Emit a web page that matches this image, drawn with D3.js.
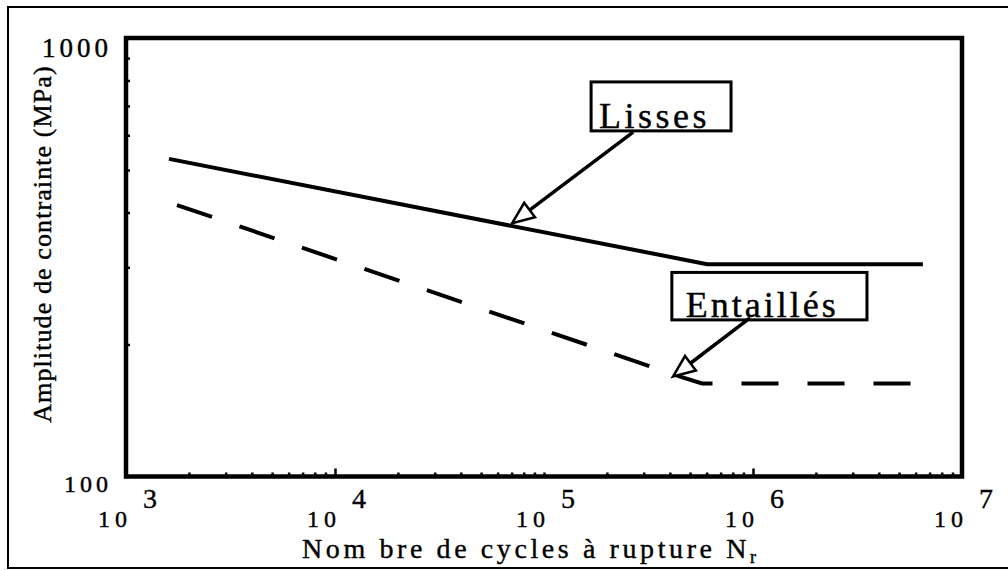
<!DOCTYPE html>
<html>
<head>
<meta charset="utf-8">
<script src="https://cdn.jsdelivr.net/npm/d3@7"></script>
<style>
  body { margin: 0; background: #fff; }
  svg text { font-family: "Liberation Serif", "Times New Roman", serif; fill: #000; stroke: #000; stroke-width: 0.4px; }
</style>
</head>
<body>
<svg id="chart" width="1008" height="570"></svg>
<script>
// axes
const xDomain = [1e3, 1e7];
const yDomain = [100, 1000];
const xMajor = [1e3, 1e4, 1e5, 1e6, 1e7];
const xExponents = ["3", "4", "5", "6", "7"];
const yMajor = [100, 1000];
const yLabels = ["100", "1000"];

// courbes de Wöhler (N, amplitude MPa)
const lissesN = [1606, 603000, 6.5e6];
const lissesS = [530, 305, 305];
const entaillesN = [1754, 448000, 570000, 6.5e6];
const entaillesS = [416, 169, 163, 163];

// annotations : boîte (coin haut-gauche / bas-droit) et flèche (queue -> pointe)
const annoText = ["Lisses", "Entaillés"];
const annoBoxN = [[168000, 785000], [409000, 3.51e6]];
const annoBoxS = [[794, 614], [292, 227.6]];
const annoTailN = [267000, 968000];
const annoTailS = [610, 230];
const annoTipN = [70300, 414000];
const annoTipS = [378, 169];

const svg = d3.select("#chart");
const W = 1008, H = 570;
const margin = { left: 126, right: W - 962, top: 38, bottom: H - 476.5 };

const x = d3.scaleLog().domain(xDomain).range([margin.left, W - margin.right]);
const y = d3.scaleLog().domain(yDomain).range([H - margin.bottom, margin.top]);

// cadre extérieur
svg.append("path")
  .attr("d", `M1010,7 H8 V568 H1010`)
  .attr("fill", "none").attr("stroke", "#000").attr("stroke-width", 2);

// petites graduations (vers l'intérieur)
const xAxis = d3.axisBottom(x).ticks(10).tickFormat("").tickSizeInner(-3).tickSizeOuter(0);
const gx = svg.append("g").attr("transform", `translate(0,${y(yDomain[0])})`).call(xAxis);
gx.select(".domain").remove();
gx.selectAll(".tick line")
  .attr("stroke-width", 2.5)
  .attr("y2", d => (d === 1e4 || d === 1e6) ? -8 : -4);

const yAxis = d3.axisLeft(y).ticks(10).tickFormat("").tickSizeInner(-4).tickSizeOuter(0);
const gy = svg.append("g").attr("transform", `translate(${x(xDomain[0])},0)`).call(yAxis);
gy.select(".domain").remove();
gy.selectAll(".tick line").attr("stroke-width", 2.5);

// cadre du graphique
svg.append("rect")
  .attr("x", x(xDomain[0])).attr("y", y(yDomain[1]))
  .attr("width", x(xDomain[1]) - x(xDomain[0]))
  .attr("height", y(yDomain[0]) - y(yDomain[1]))
  .attr("fill", "none").attr("stroke", "#000").attr("stroke-width", 4.5);

// étiquettes de l'axe x : 10 puissance n
const xl = svg.append("g");
xMajor.forEach((v, i) => {
  xl.append("text")
    .attr("x", x(v) + 6).attr("y", 527)
    .attr("text-anchor", "end")
    .attr("font-size", 24).attr("letter-spacing", 5)
    .text("10");
  xl.append("text")
    .attr("x", x(v) + 17).attr("y", 508)
    .attr("font-size", 28)
    .text(xExponents[i]);
});

// étiquettes de l'axe y
yMajor.forEach((v, i) => {
  svg.append("text")
    .attr("x", x(xDomain[0]) - 14).attr("y", y(v) + (v === 1000 ? 19 : 15))
    .attr("text-anchor", "end")
    .attr("font-size", v === 1000 ? 27 : 24)
    .attr("letter-spacing", 4)
    .text(yLabels[i]);
});

// titres des axes
const xt = svg.append("text")
  .attr("x", 302).attr("y", 558)
  .attr("font-size", 28).attr("letter-spacing", 3.6);
xt.append("tspan").text("Nom bre de cycles à rupture N");
xt.append("tspan").attr("font-size", 18).attr("dy", 5).text("r");

svg.append("text")
  .attr("transform", `translate(51,244) rotate(-90)`)
  .attr("text-anchor", "middle")
  .attr("font-size", 26).attr("letter-spacing", 1.1)
  .text("Amplitude de contrainte (MPa)");

// courbes
const line = d3.line().x(d => x(d[0])).y(d => y(d[1]));

svg.append("path")
  .datum(d3.zip(lissesN, lissesS))
  .attr("d", line)
  .attr("fill", "none").attr("stroke", "#000").attr("stroke-width", 4);

svg.append("path")
  .datum(d3.zip(entaillesN, entaillesS))
  .attr("d", line)
  .attr("fill", "none").attr("stroke", "#000").attr("stroke-width", 4)
  .attr("stroke-dasharray", "37,29");

// annotations
annoText.forEach((t, i) => {
  const bx0 = x(annoBoxN[i][0]), bx1 = x(annoBoxN[i][1]);
  const by0 = y(annoBoxS[i][0]), by1 = y(annoBoxS[i][1]);
  svg.append("rect")
    .attr("x", bx0).attr("y", by0)
    .attr("width", bx1 - bx0).attr("height", by1 - by0)
    .attr("fill", "#fff").attr("stroke", "#000").attr("stroke-width", 3);
  svg.append("text")
    .attr("x", bx0 + (i === 0 ? 8 : 14)).attr("y", by1 - 3)
    .attr("font-size", 36).attr("letter-spacing", i === 0 ? 3.5 : 3)
    .text(t);

  // flèche à tête creuse
  const tx = x(annoTailN[i]), ty = y(annoTailS[i]);
  const px = x(annoTipN[i]), py = y(annoTipS[i]);
  const len = Math.hypot(px - tx, py - ty);
  const ux = (px - tx) / len, uy = (py - ty) / len;
  const hl = 22, hw = 9;
  const bxc = px - ux * hl, byc = py - uy * hl;
  svg.append("line")
    .attr("x1", tx).attr("y1", ty).attr("x2", bxc).attr("y2", byc)
    .attr("stroke", "#000").attr("stroke-width", 3.5);
  svg.append("path")
    .attr("d", `M${px},${py} L${bxc - uy * hw},${byc + ux * hw} L${bxc + uy * hw},${byc - ux * hw} Z`)
    .attr("fill", "#fff").attr("stroke", "#000").attr("stroke-width", 2.5);
});
</script>
</body>
</html>
